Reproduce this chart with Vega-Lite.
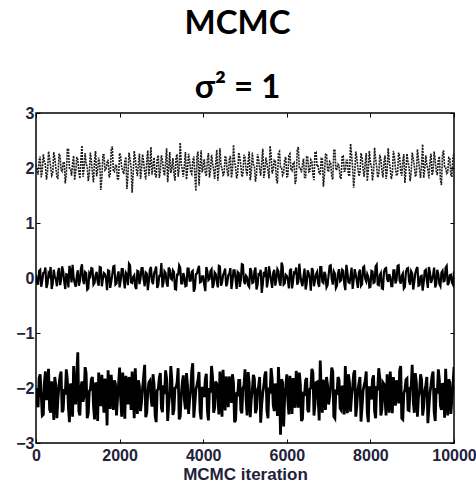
{
"$schema":"https://vega.github.io/schema/vega-lite/v6.json",
"autosize":"none",
"width":418,"height":330,
"padding":{"left":36,"top":113,"right":22,"bottom":41},
"background":"white",
"config":{"view":{"stroke":"black","strokeWidth":1.5},"font":"Liberation Sans"},
"title":{"text":["MCMC","σ² = 1"],"font":"Lato","fontWeight":"bold","fontSize":33,"lineHeight":64,"color":"black","anchor":"middle","dx":-7.5,"offset":0},
"data":{"values":[
{"x":0,"a":2.05,"b":0.05,"c":-2.00},{"x":50,"a":1.88,"b":-0.12,"c":-2.35},{"x":100,"a":2.21,"b":0.15,"c":-1.75},{"x":150,"a":1.95,"b":-0.05,"c":-2.50},{"x":200,"a":2.12,"b":0.10,"c":-1.90},{"x":250,"a":1.79,"b":-0.18,"c":-2.22},{"x":300,"a":2.30,"b":0.08,"c":-1.65},{"x":350,"a":2.02,"b":0.20,"c":-2.45},{"x":400,"a":1.90,"b":-0.10,"c":-2.05},{"x":450,"a":2.18,"b":0.02,"c":-1.80},
{"x":500,"a":1.84,"b":-0.15,"c":-2.55},{"x":550,"a":2.26,"b":0.18,"c":-1.95},{"x":600,"a":1.97,"b":-0.03,"c":-1.70},{"x":650,"a":2.09,"b":0.12,"c":-2.40},{"x":700,"a":1.72,"b":-0.20,"c":-2.12},{"x":750,"a":2.35,"b":0.06,"c":-1.85},{"x":800,"a":2.00,"b":0.22,"c":-2.62},{"x":850,"a":1.86,"b":-0.08,"c":-2.00},{"x":900,"a":2.22,"b":0.01,"c":-1.60},{"x":950,"a":1.93,"b":-0.16,"c":-2.30},
{"x":1000,"a":2.15,"b":0.14,"c":-1.35},{"x":1050,"a":1.81,"b":-0.06,"c":-2.50},{"x":1100,"a":2.41,"b":0.25,"c":-1.88},{"x":1150,"a":1.99,"b":-0.11,"c":-2.15},{"x":1200,"a":2.07,"b":0.09,"c":-1.74},{"x":1250,"a":1.76,"b":-0.19,"c":-2.46},{"x":1300,"a":2.28,"b":0.04,"c":-2.03},{"x":1350,"a":1.91,"b":0.17,"c":-1.80},{"x":1400,"a":2.13,"b":-0.09,"c":-2.57},{"x":1450,"a":1.85,"b":0.11,"c":-1.95},
{"x":1500,"a":2.19,"b":-0.14,"c":-1.72},{"x":1550,"a":1.60,"b":0.19,"c":-2.33},{"x":1600,"a":2.24,"b":-0.02,"c":-2.10},{"x":1650,"a":1.96,"b":0.07,"c":-1.83},{"x":1700,"a":2.10,"b":-0.22,"c":-2.68},{"x":1750,"a":1.83,"b":0.13,"c":-2.00},{"x":1800,"a":2.33,"b":-0.07,"c":-1.76},{"x":1850,"a":1.94,"b":0.21,"c":-2.40},{"x":1900,"a":2.04,"b":-0.12,"c":-1.92},{"x":1950,"a":1.78,"b":0.03,"c":-2.20},
{"x":2000,"a":2.27,"b":-0.17,"c":-1.63},{"x":2050,"a":2.01,"b":0.16,"c":-2.52},{"x":2100,"a":1.89,"b":-0.04,"c":-2.05},{"x":2150,"a":2.20,"b":0.10,"c":-1.78},{"x":2200,"a":1.87,"b":-0.13,"c":-2.30},{"x":2250,"a":2.16,"b":0.23,"c":-1.96},{"x":2300,"a":1.55,"b":-0.09,"c":-1.70},{"x":2350,"a":2.31,"b":0.05,"c":-2.55},{"x":2400,"a":1.98,"b":-0.20,"c":-2.08},{"x":2450,"a":2.08,"b":0.12,"c":-1.86},
{"x":2500,"a":1.80,"b":-0.01,"c":-2.42},{"x":2550,"a":2.25,"b":0.18,"c":-2.00},{"x":2600,"a":1.92,"b":-0.15,"c":-1.58},{"x":2650,"a":2.14,"b":0.08,"c":-2.45},{"x":2700,"a":1.86,"b":-0.06,"c":-1.90},{"x":2750,"a":2.38,"b":0.20,"c":-2.16},{"x":2800,"a":2.03,"b":-0.11,"c":-1.75},{"x":2850,"a":1.88,"b":0.14,"c":-2.50},{"x":2900,"a":2.17,"b":-0.18,"c":-2.04},{"x":2950,"a":1.82,"b":0.04,"c":-1.81},
{"x":3000,"a":2.23,"b":0.27,"c":-2.36},{"x":3050,"a":1.95,"b":-0.08,"c":-1.95},{"x":3100,"a":2.11,"b":0.09,"c":-1.68},{"x":3150,"a":1.74,"b":-0.16,"c":-2.60},{"x":3200,"a":2.29,"b":0.15,"c":-2.12},{"x":3250,"a":2.00,"b":-0.03,"c":-1.85},{"x":3300,"a":1.90,"b":0.11,"c":-2.40},{"x":3350,"a":2.19,"b":-0.21,"c":-1.99},{"x":3400,"a":1.84,"b":0.06,"c":-1.64},{"x":3450,"a":2.46,"b":0.19,"c":-2.52},
{"x":3500,"a":1.97,"b":-0.10,"c":-1.90},{"x":3550,"a":2.06,"b":0.02,"c":-2.22},{"x":3600,"a":1.79,"b":-0.14,"c":-1.73},{"x":3650,"a":2.26,"b":0.17,"c":-2.47},{"x":3700,"a":1.93,"b":-0.05,"c":-2.06},{"x":3750,"a":2.12,"b":0.13,"c":-1.55},{"x":3800,"a":1.87,"b":-0.19,"c":-2.30},{"x":3850,"a":2.21,"b":0.08,"c":-1.95},{"x":3900,"a":1.68,"b":0.22,"c":-1.71},{"x":3950,"a":2.32,"b":-0.07,"c":-2.57},
{"x":4000,"a":2.02,"b":0.03,"c":-2.10},{"x":4050,"a":1.91,"b":-0.24,"c":-1.84},{"x":4100,"a":2.15,"b":0.12,"c":-2.41},{"x":4150,"a":1.83,"b":-0.02,"c":-2.00},{"x":4200,"a":2.24,"b":0.16,"c":-1.60},{"x":4250,"a":1.96,"b":-0.12,"c":-2.45},{"x":4300,"a":2.09,"b":0.07,"c":-1.88},{"x":4350,"a":1.77,"b":-0.17,"c":-2.15},{"x":4400,"a":2.36,"b":0.21,"c":-1.70},{"x":4450,"a":1.99,"b":-0.09,"c":-2.52},
{"x":4500,"a":1.89,"b":0.10,"c":-2.05},{"x":4550,"a":2.18,"b":-0.15,"c":-1.79},{"x":4600,"a":1.85,"b":0.05,"c":-2.35},{"x":4650,"a":2.22,"b":0.18,"c":-1.94},{"x":4700,"a":1.94,"b":-0.06,"c":-1.75},{"x":4750,"a":2.13,"b":0.14,"c":-2.62},{"x":4800,"a":1.81,"b":-0.20,"c":-2.11},{"x":4850,"a":2.28,"b":0.09,"c":-1.86},{"x":4900,"a":2.04,"b":-0.04,"c":-2.40},{"x":4950,"a":1.88,"b":0.24,"c":-2.00},
{"x":5000,"a":2.20,"b":-0.11,"c":-1.66},{"x":5050,"a":1.86,"b":0.01,"c":-2.50},{"x":5100,"a":2.30,"b":-0.16,"c":-1.91},{"x":5150,"a":1.92,"b":0.13,"c":-2.21},{"x":5200,"a":2.07,"b":-0.08,"c":-1.76},{"x":5250,"a":1.75,"b":0.19,"c":-2.46},{"x":5300,"a":2.25,"b":-0.13,"c":-2.03},{"x":5350,"a":1.98,"b":0.06,"c":-1.80},{"x":5400,"a":2.11,"b":-0.27,"c":-2.30},{"x":5450,"a":1.82,"b":0.11,"c":-1.96},
{"x":5500,"a":2.19,"b":0.20,"c":-1.70},{"x":5550,"a":1.95,"b":-0.05,"c":-2.55},{"x":5600,"a":2.40,"b":0.08,"c":-2.10},{"x":5650,"a":1.90,"b":-0.18,"c":-1.84},{"x":5700,"a":2.14,"b":0.15,"c":-2.42},{"x":5750,"a":1.80,"b":-0.02,"c":-2.00},{"x":5800,"a":2.27,"b":0.12,"c":-1.62},{"x":5850,"a":2.01,"b":-0.14,"c":-2.85},{"x":5900,"a":1.87,"b":0.22,"c":-1.90},{"x":5950,"a":2.16,"b":-0.10,"c":-2.15},
{"x":6000,"a":1.84,"b":0.04,"c":-1.75},{"x":6050,"a":2.23,"b":-0.19,"c":-2.48},{"x":6100,"a":1.97,"b":0.17,"c":-2.05},{"x":6150,"a":2.08,"b":-0.06,"c":-1.82},{"x":6200,"a":1.71,"b":0.09,"c":-2.36},{"x":6250,"a":2.33,"b":-0.12,"c":-1.95},{"x":6300,"a":1.99,"b":0.26,"c":-1.72},{"x":6350,"a":1.92,"b":-0.08,"c":-2.60},{"x":6400,"a":2.17,"b":0.03,"c":-2.10},{"x":6450,"a":1.83,"b":-0.21,"c":-1.86},
{"x":6500,"a":2.21,"b":0.14,"c":-2.40},{"x":6550,"a":1.94,"b":-0.01,"c":-2.02},{"x":6600,"a":2.12,"b":0.18,"c":-1.65},{"x":6650,"a":1.78,"b":-0.15,"c":-2.50},{"x":6700,"a":2.29,"b":0.07,"c":-1.90},{"x":6750,"a":2.03,"b":-0.10,"c":-2.20},{"x":6800,"a":1.89,"b":0.20,"c":-1.50},{"x":6850,"a":2.18,"b":-0.07,"c":-2.45},{"x":6900,"a":1.86,"b":0.11,"c":-2.05},{"x":6950,"a":2.26,"b":-0.17,"c":-1.80},
{"x":7000,"a":1.93,"b":0.05,"c":-2.30},{"x":7050,"a":2.10,"b":0.23,"c":-1.96},{"x":7100,"a":1.79,"b":-0.12,"c":-1.70},{"x":7150,"a":2.34,"b":0.08,"c":-2.55},{"x":7200,"a":1.98,"b":-0.14,"c":-2.12},{"x":7250,"a":2.05,"b":0.16,"c":-1.85},{"x":7300,"a":1.82,"b":-0.04,"c":-2.40},{"x":7350,"a":2.22,"b":0.13,"c":-2.00},{"x":7400,"a":1.95,"b":-0.22,"c":-1.60},{"x":7450,"a":2.14,"b":0.10,"c":-2.46},
{"x":7500,"a":1.85,"b":-0.09,"c":-1.90},{"x":7550,"a":2.24,"b":0.19,"c":-2.15},{"x":7600,"a":1.64,"b":-0.03,"c":-1.74},{"x":7650,"a":2.30,"b":0.06,"c":-2.52},{"x":7700,"a":2.00,"b":-0.18,"c":-2.04},{"x":7750,"a":1.91,"b":0.15,"c":-1.80},{"x":7800,"a":2.19,"b":-0.11,"c":-2.35},{"x":7850,"a":1.84,"b":0.21,"c":-1.95},{"x":7900,"a":2.27,"b":-0.06,"c":-1.70},{"x":7950,"a":1.96,"b":0.02,"c":-2.62},
{"x":8000,"a":2.09,"b":-0.16,"c":-2.10},{"x":8050,"a":1.77,"b":0.12,"c":-1.84},{"x":8100,"a":2.37,"b":-0.08,"c":-2.42},{"x":8150,"a":2.02,"b":0.24,"c":-2.00},{"x":8200,"a":1.88,"b":-0.13,"c":-1.64},{"x":8250,"a":2.16,"b":0.09,"c":-2.50},{"x":8300,"a":1.83,"b":-0.20,"c":-1.90},{"x":8350,"a":2.23,"b":0.17,"c":-2.22},{"x":8400,"a":1.93,"b":-0.02,"c":-1.75},{"x":8450,"a":2.13,"b":0.07,"c":-2.45},
{"x":8500,"a":1.80,"b":-0.15,"c":-2.05},{"x":8550,"a":2.31,"b":0.14,"c":-1.80},{"x":8600,"a":1.99,"b":-0.10,"c":-2.32},{"x":8650,"a":1.90,"b":0.22,"c":-1.95},{"x":8700,"a":2.20,"b":-0.05,"c":-1.68},{"x":8750,"a":1.86,"b":0.04,"c":-2.55},{"x":8800,"a":2.25,"b":-0.19,"c":-2.10},{"x":8850,"a":1.95,"b":0.11,"c":-1.85},{"x":8900,"a":2.11,"b":0.18,"c":-2.40},{"x":8950,"a":1.76,"b":-0.12,"c":-2.00},
{"x":9000,"a":2.28,"b":0.08,"c":-1.58},{"x":9050,"a":2.04,"b":-0.07,"c":-2.45},{"x":9100,"a":1.89,"b":0.16,"c":-1.90},{"x":9150,"a":2.17,"b":-0.14,"c":-2.16},{"x":9200,"a":1.82,"b":0.03,"c":-1.75},{"x":9250,"a":2.43,"b":-0.23,"c":-2.50},{"x":9300,"a":1.97,"b":0.13,"c":-2.05},{"x":9350,"a":2.07,"b":-0.04,"c":-1.80},{"x":9400,"a":1.81,"b":0.20,"c":-2.35},{"x":9450,"a":2.26,"b":-0.09,"c":-1.95},
{"x":9500,"a":1.94,"b":0.06,"c":-1.70},{"x":9550,"a":2.15,"b":-0.17,"c":-2.60},{"x":9600,"a":1.87,"b":0.15,"c":-2.10},{"x":9650,"a":2.21,"b":-0.11,"c":-1.85},{"x":9700,"a":1.69,"b":0.10,"c":-2.40},{"x":9750,"a":2.32,"b":-0.06,"c":-2.00},{"x":9800,"a":2.01,"b":0.19,"c":-1.65},{"x":9850,"a":1.92,"b":-0.13,"c":-2.50},{"x":9900,"a":2.18,"b":0.05,"c":-1.90},{"x":9950,"a":1.85,"b":-0.08,"c":-2.20},
{"x":10000,"a":2.24,"b":0.12,"c":-1.62},
{"x":25,"a":1.97,"b":-0.07,"c":-2.28},{"x":75,"a":2.14,"b":0.13,"c":-1.82},{"x":125,"a":1.83,"b":-0.16,"c":-2.12},{"x":175,"a":2.25,"b":0.09,"c":-2.48},{"x":225,"a":2.06,"b":0.19,"c":-1.70},{"x":275,"a":1.91,"b":-0.11,"c":-2.05},{"x":325,"a":2.18,"b":0.04,"c":-2.38},{"x":375,"a":1.86,"b":-0.20,"c":-1.88},{"x":425,"a":2.29,"b":0.15,"c":-2.58},{"x":475,"a":2.00,"b":-0.02,"c":-1.96},
{"x":525,"a":1.80,"b":0.10,"c":-2.20},{"x":575,"a":2.22,"b":-0.13,"c":-1.78},{"x":625,"a":1.94,"b":0.21,"c":-2.44},{"x":675,"a":2.11,"b":-0.06,"c":-2.02},{"x":725,"a":1.88,"b":0.07,"c":-1.66},{"x":775,"a":2.34,"b":-0.17,"c":-2.35},{"x":825,"a":1.99,"b":0.12,"c":-1.92},{"x":875,"a":2.08,"b":0.24,"c":-2.52},{"x":925,"a":1.78,"b":-0.09,"c":-2.08},{"x":975,"a":2.20,"b":0.03,"c":-1.74},
{"x":1025,"a":1.92,"b":-0.14,"c":-2.42},{"x":1075,"a":2.16,"b":0.17,"c":-1.98},{"x":1125,"a":1.84,"b":-0.04,"c":-2.25},{"x":1175,"a":2.27,"b":0.11,"c":-1.62},{"x":1225,"a":2.03,"b":-0.21,"c":-2.55},{"x":1275,"a":1.89,"b":0.08,"c":-2.06},{"x":1325,"a":2.13,"b":0.18,"c":-1.84},{"x":1375,"a":1.74,"b":-0.12,"c":-2.32},{"x":1425,"a":2.31,"b":0.05,"c":-1.90},{"x":1475,"a":1.96,"b":-0.07,"c":-2.60},
{"x":1525,"a":2.09,"b":0.20,"c":-2.14},{"x":1575,"a":1.82,"b":-0.15,"c":-1.76},{"x":1625,"a":2.24,"b":0.09,"c":-2.45},{"x":1675,"a":1.98,"b":-0.01,"c":-1.99},{"x":1725,"a":2.15,"b":0.14,"c":-1.68},{"x":1775,"a":1.87,"b":-0.18,"c":-2.38},{"x":1825,"a":2.39,"b":0.06,"c":-2.04},{"x":1875,"a":1.93,"b":0.22,"c":-1.86},{"x":1925,"a":2.06,"b":-0.10,"c":-2.50},{"x":1975,"a":1.81,"b":0.12,"c":-1.93},
{"x":2025,"a":2.21,"b":-0.05,"c":-2.18},{"x":2075,"a":1.95,"b":0.16,"c":-1.72},{"x":2125,"a":2.12,"b":-0.19,"c":-2.56},{"x":2175,"a":1.62,"b":0.07,"c":-2.01},{"x":2225,"a":2.28,"b":0.26,"c":-1.80},{"x":2275,"a":2.01,"b":-0.08,"c":-2.40},{"x":2325,"a":1.90,"b":0.02,"c":-2.10},{"x":2375,"a":2.17,"b":-0.16,"c":-1.64},{"x":2425,"a":1.85,"b":0.13,"c":-2.47},{"x":2475,"a":2.26,"b":-0.11,"c":-1.97},
{"x":2525,"a":1.97,"b":0.18,"c":-2.26},{"x":2575,"a":2.10,"b":-0.03,"c":-1.79},{"x":2625,"a":1.79,"b":0.10,"c":-2.53},{"x":2675,"a":2.32,"b":-0.22,"c":-2.07},{"x":2725,"a":2.04,"b":0.15,"c":-1.87},{"x":2775,"a":1.88,"b":-0.06,"c":-2.34},{"x":2825,"a":2.19,"b":0.08,"c":-1.94},{"x":2875,"a":1.83,"b":0.21,"c":-2.62},{"x":2925,"a":2.23,"b":-0.13,"c":-2.02},{"x":2975,"a":1.94,"b":0.04,"c":-1.73},
{"x":3025,"a":2.14,"b":-0.17,"c":-2.44},{"x":3075,"a":1.86,"b":0.12,"c":-2.11},{"x":3125,"a":2.36,"b":-0.09,"c":-1.83},{"x":3175,"a":2.00,"b":0.19,"c":-2.30},{"x":3225,"a":1.91,"b":-0.01,"c":-1.60},{"x":3275,"a":2.18,"b":0.14,"c":-2.49},{"x":3325,"a":1.77,"b":-0.20,"c":-2.00},{"x":3375,"a":2.25,"b":0.06,"c":-1.90},{"x":3425,"a":1.99,"b":0.23,"c":-2.57},{"x":3475,"a":2.07,"b":-0.10,"c":-2.13},
{"x":3525,"a":1.84,"b":0.09,"c":-1.77},{"x":3575,"a":2.29,"b":-0.15,"c":-2.39},{"x":3625,"a":1.96,"b":0.17,"c":-1.95},{"x":3675,"a":2.13,"b":-0.05,"c":-2.22},{"x":3725,"a":1.89,"b":0.11,"c":-1.69},{"x":3775,"a":2.21,"b":-0.25,"c":-2.54},{"x":3825,"a":1.58,"b":0.07,"c":-2.03},{"x":3875,"a":2.30,"b":0.16,"c":-1.85},{"x":3925,"a":2.02,"b":-0.08,"c":-2.43},{"x":3975,"a":1.92,"b":0.03,"c":-1.98},
{"x":4025,"a":2.16,"b":-0.12,"c":-2.16},{"x":4075,"a":1.85,"b":0.20,"c":-1.74},{"x":4125,"a":2.27,"b":-0.04,"c":-2.59},{"x":4175,"a":1.95,"b":0.13,"c":-2.08},{"x":4225,"a":2.09,"b":-0.18,"c":-1.81},{"x":4275,"a":1.80,"b":0.10,"c":-2.36},{"x":4325,"a":2.33,"b":-0.07,"c":-1.93},{"x":4375,"a":1.98,"b":0.22,"c":-2.48},{"x":4425,"a":2.05,"b":-0.14,"c":-2.05},{"x":4475,"a":1.87,"b":0.05,"c":-1.67},
{"x":4525,"a":2.22,"b":0.17,"c":-2.41},{"x":4575,"a":1.93,"b":-0.10,"c":-2.00},{"x":4625,"a":2.15,"b":0.08,"c":-1.79},{"x":4675,"a":1.82,"b":-0.20,"c":-2.27},{"x":4725,"a":2.42,"b":0.14,"c":-1.91},{"x":4775,"a":2.01,"b":-0.02,"c":-2.58},{"x":4825,"a":1.90,"b":0.11,"c":-2.12},{"x":4875,"a":2.19,"b":-0.16,"c":-1.86},{"x":4925,"a":1.84,"b":0.25,"c":-2.46},{"x":4975,"a":2.24,"b":-0.06,"c":-1.96},
{"x":5025,"a":1.96,"b":0.04,"c":-2.19},{"x":5075,"a":2.11,"b":-0.13,"c":-1.71},{"x":5125,"a":1.78,"b":0.18,"c":-2.53},{"x":5175,"a":2.28,"b":-0.09,"c":-2.04},{"x":5225,"a":2.03,"b":0.12,"c":-1.83},{"x":5275,"a":1.88,"b":-0.21,"c":-2.38},{"x":5325,"a":2.17,"b":0.07,"c":-1.97},{"x":5375,"a":1.86,"b":0.15,"c":-2.63},{"x":5425,"a":2.35,"b":-0.11,"c":-2.09},{"x":5475,"a":1.94,"b":0.02,"c":-1.76},
{"x":5525,"a":2.08,"b":-0.17,"c":-2.42},{"x":5575,"a":1.81,"b":0.21,"c":-1.99},{"x":5625,"a":2.23,"b":-0.05,"c":-1.64},{"x":5675,"a":1.97,"b":0.09,"c":-2.31},{"x":5725,"a":2.13,"b":-0.14,"c":-1.92},{"x":5775,"a":1.72,"b":0.16,"c":-2.51},{"x":5825,"a":2.30,"b":-0.08,"c":-2.06},{"x":5875,"a":2.00,"b":0.28,"c":-1.84},{"x":5925,"a":1.91,"b":-0.12,"c":-2.70},{"x":5975,"a":2.20,"b":0.06,"c":-1.98},
{"x":6025,"a":1.85,"b":-0.03,"c":-2.23},{"x":6075,"a":2.26,"b":0.13,"c":-1.78},{"x":6125,"a":1.95,"b":-0.19,"c":-2.47},{"x":6175,"a":2.10,"b":0.10,"c":-2.02},{"x":6225,"a":1.79,"b":0.19,"c":-1.69},{"x":6275,"a":2.38,"b":-0.07,"c":-2.36},{"x":6325,"a":1.99,"b":0.04,"c":-1.94},{"x":6375,"a":2.06,"b":-0.15,"c":-2.56},{"x":6425,"a":1.83,"b":0.17,"c":-2.11},{"x":6475,"a":2.21,"b":-0.10,"c":-1.82},
{"x":6525,"a":1.93,"b":0.08,"c":-2.44},{"x":6575,"a":2.15,"b":-0.23,"c":-2.00},{"x":6625,"a":1.87,"b":0.14,"c":-1.72},{"x":6675,"a":2.29,"b":-0.04,"c":-2.29},{"x":6725,"a":2.02,"b":0.11,"c":-1.89},{"x":6775,"a":1.89,"b":-0.16,"c":-2.59},{"x":6825,"a":2.18,"b":0.20,"c":-2.07},{"x":6875,"a":1.66,"b":-0.09,"c":-1.85},{"x":6925,"a":2.25,"b":0.06,"c":-2.40},{"x":6975,"a":1.97,"b":-0.13,"c":-1.95},
{"x":7025,"a":2.12,"b":0.22,"c":-2.17},{"x":7075,"a":1.84,"b":-0.02,"c":-1.63},{"x":7125,"a":2.32,"b":0.12,"c":-2.52},{"x":7175,"a":1.96,"b":-0.18,"c":-2.03},{"x":7225,"a":2.07,"b":0.09,"c":-1.80},{"x":7275,"a":1.81,"b":-0.06,"c":-2.37},{"x":7325,"a":2.22,"b":0.15,"c":-1.96},{"x":7375,"a":1.94,"b":-0.11,"c":-2.48},{"x":7425,"a":2.14,"b":0.24,"c":-2.10},{"x":7475,"a":1.88,"b":-0.08,"c":-1.75},
{"x":7525,"a":2.44,"b":0.03,"c":-2.43},{"x":7575,"a":2.00,"b":-0.20,"c":-1.98},{"x":7625,"a":1.90,"b":0.16,"c":-1.68},{"x":7675,"a":2.19,"b":-0.05,"c":-2.33},{"x":7725,"a":1.85,"b":0.10,"c":-1.92},{"x":7775,"a":2.27,"b":-0.14,"c":-2.61},{"x":7825,"a":1.98,"b":0.19,"c":-2.05},{"x":7875,"a":2.09,"b":-0.01,"c":-1.87},{"x":7925,"a":1.76,"b":0.07,"c":-2.45},{"x":7975,"a":2.31,"b":-0.17,"c":-1.97},
{"x":8025,"a":2.03,"b":0.13,"c":-2.21},{"x":8075,"a":1.92,"b":-0.09,"c":-1.77},{"x":8125,"a":2.16,"b":0.21,"c":-2.55},{"x":8175,"a":1.83,"b":-0.12,"c":-2.01},{"x":8225,"a":2.24,"b":0.05,"c":-1.82},{"x":8275,"a":1.95,"b":-0.19,"c":-2.39},{"x":8325,"a":2.11,"b":0.11,"c":-1.93},{"x":8375,"a":1.80,"b":0.18,"c":-2.50},{"x":8425,"a":2.36,"b":-0.07,"c":-2.08},{"x":8475,"a":1.99,"b":0.02,"c":-1.70},
{"x":8525,"a":1.89,"b":-0.15,"c":-2.46},{"x":8575,"a":2.20,"b":0.14,"c":-2.02},{"x":8625,"a":1.86,"b":-0.04,"c":-1.86},{"x":8675,"a":2.28,"b":0.23,"c":-2.28},{"x":8725,"a":1.93,"b":-0.10,"c":-1.60},{"x":8775,"a":2.13,"b":0.08,"c":-2.57},{"x":8825,"a":1.73,"b":-0.16,"c":-2.04},{"x":8875,"a":2.26,"b":0.17,"c":-1.83},{"x":8925,"a":2.01,"b":-0.06,"c":-2.41},{"x":8975,"a":1.91,"b":0.12,"c":-1.99},
{"x":9025,"a":2.17,"b":-0.21,"c":-2.24},{"x":9075,"a":1.84,"b":0.09,"c":-1.73},{"x":9125,"a":2.34,"b":0.20,"c":-2.52},{"x":9175,"a":1.96,"b":-0.13,"c":-2.06},{"x":9225,"a":2.08,"b":0.04,"c":-1.85},{"x":9275,"a":1.82,"b":-0.08,"c":-2.35},{"x":9325,"a":2.23,"b":0.15,"c":-1.95},{"x":9375,"a":1.97,"b":-0.18,"c":-2.64},{"x":9425,"a":2.12,"b":0.10,"c":-2.09},{"x":9475,"a":1.87,"b":-0.03,"c":-1.78},
{"x":9525,"a":2.30,"b":0.19,"c":-2.43},{"x":9575,"a":1.94,"b":-0.11,"c":-2.00},{"x":9625,"a":2.15,"b":0.07,"c":-1.66},{"x":9675,"a":1.78,"b":-0.15,"c":-2.32},{"x":9725,"a":2.25,"b":0.13,"c":-1.91},{"x":9775,"a":2.02,"b":-0.05,"c":-2.54},{"x":9825,"a":1.90,"b":0.22,"c":-2.07},{"x":9875,"a":2.19,"b":-0.09,"c":-1.84},{"x":9925,"a":1.85,"b":0.06,"c":-2.47},{"x":9975,"a":2.21,"b":-0.12,"c":-1.96}
]},
"transform":[{"fold":["a","b","c"],"as":["s","v"]}],
"layer":[
{"mark":{"type":"line","clip":true},
"encoding":{
"x":{"field":"x","type":"quantitative","scale":{"domain":[0,10000],"nice":false},
"axis":{"title":"MCMC iteration","values":[0,2000,4000,6000,8000,10000],"format":"d","grid":false,"domain":false,"tickSize":-4,"tickColor":"black","labelFont":"Liberation Sans","labelFontWeight":"bold","labelFontSize":16,"labelColor":"#22223a","labelPadding":8,"titleFont":"Liberation Sans","titleFontWeight":"bold","titleFontSize":17,"titleColor":"#22223a","titlePadding":3,"labelFlush":false}},
"y":{"field":"v","type":"quantitative","scale":{"domain":[-3,3],"nice":false},
"axis":{"title":null,"values":[-3,-2,-1,0,1,2,3],"grid":false,"domain":false,"tickSize":-4,"tickColor":"black","labelFont":"Liberation Sans","labelFontWeight":"bold","labelFontSize":16,"labelColor":"#22223a","labelPadding":6}},
"color":{"field":"s","type":"nominal","scale":{"domain":["a","b","c"],"range":["#1a1a1a","black","black"]},"legend":null},
"strokeDash":{"field":"s","type":"nominal","scale":{"domain":["a","b","c"],"range":[[2,1],[1,0],[1,0]]},"legend":null},
"strokeWidth":{"field":"s","type":"nominal","scale":{"domain":["a","b","c"],"range":[1.6,2.8,2.4]},"legend":null}
}},
{"mark":{"type":"line","opacity":0},
"encoding":{
"x":{"field":"x","type":"quantitative","axis":{"orient":"top","title":null,"labels":false,"values":[0,2000,4000,6000,8000,10000],"grid":false,"domain":false,"tickSize":-4,"tickColor":"black"}},
"y":{"field":"v","type":"quantitative","axis":{"orient":"right","title":null,"labels":false,"values":[-3,-2,-1,0,1,2,3],"grid":false,"domain":false,"tickSize":-4,"tickColor":"black"}},
"detail":{"field":"s"}
}}
],
"resolve":{"axis":{"x":"independent","y":"independent"}}
}
